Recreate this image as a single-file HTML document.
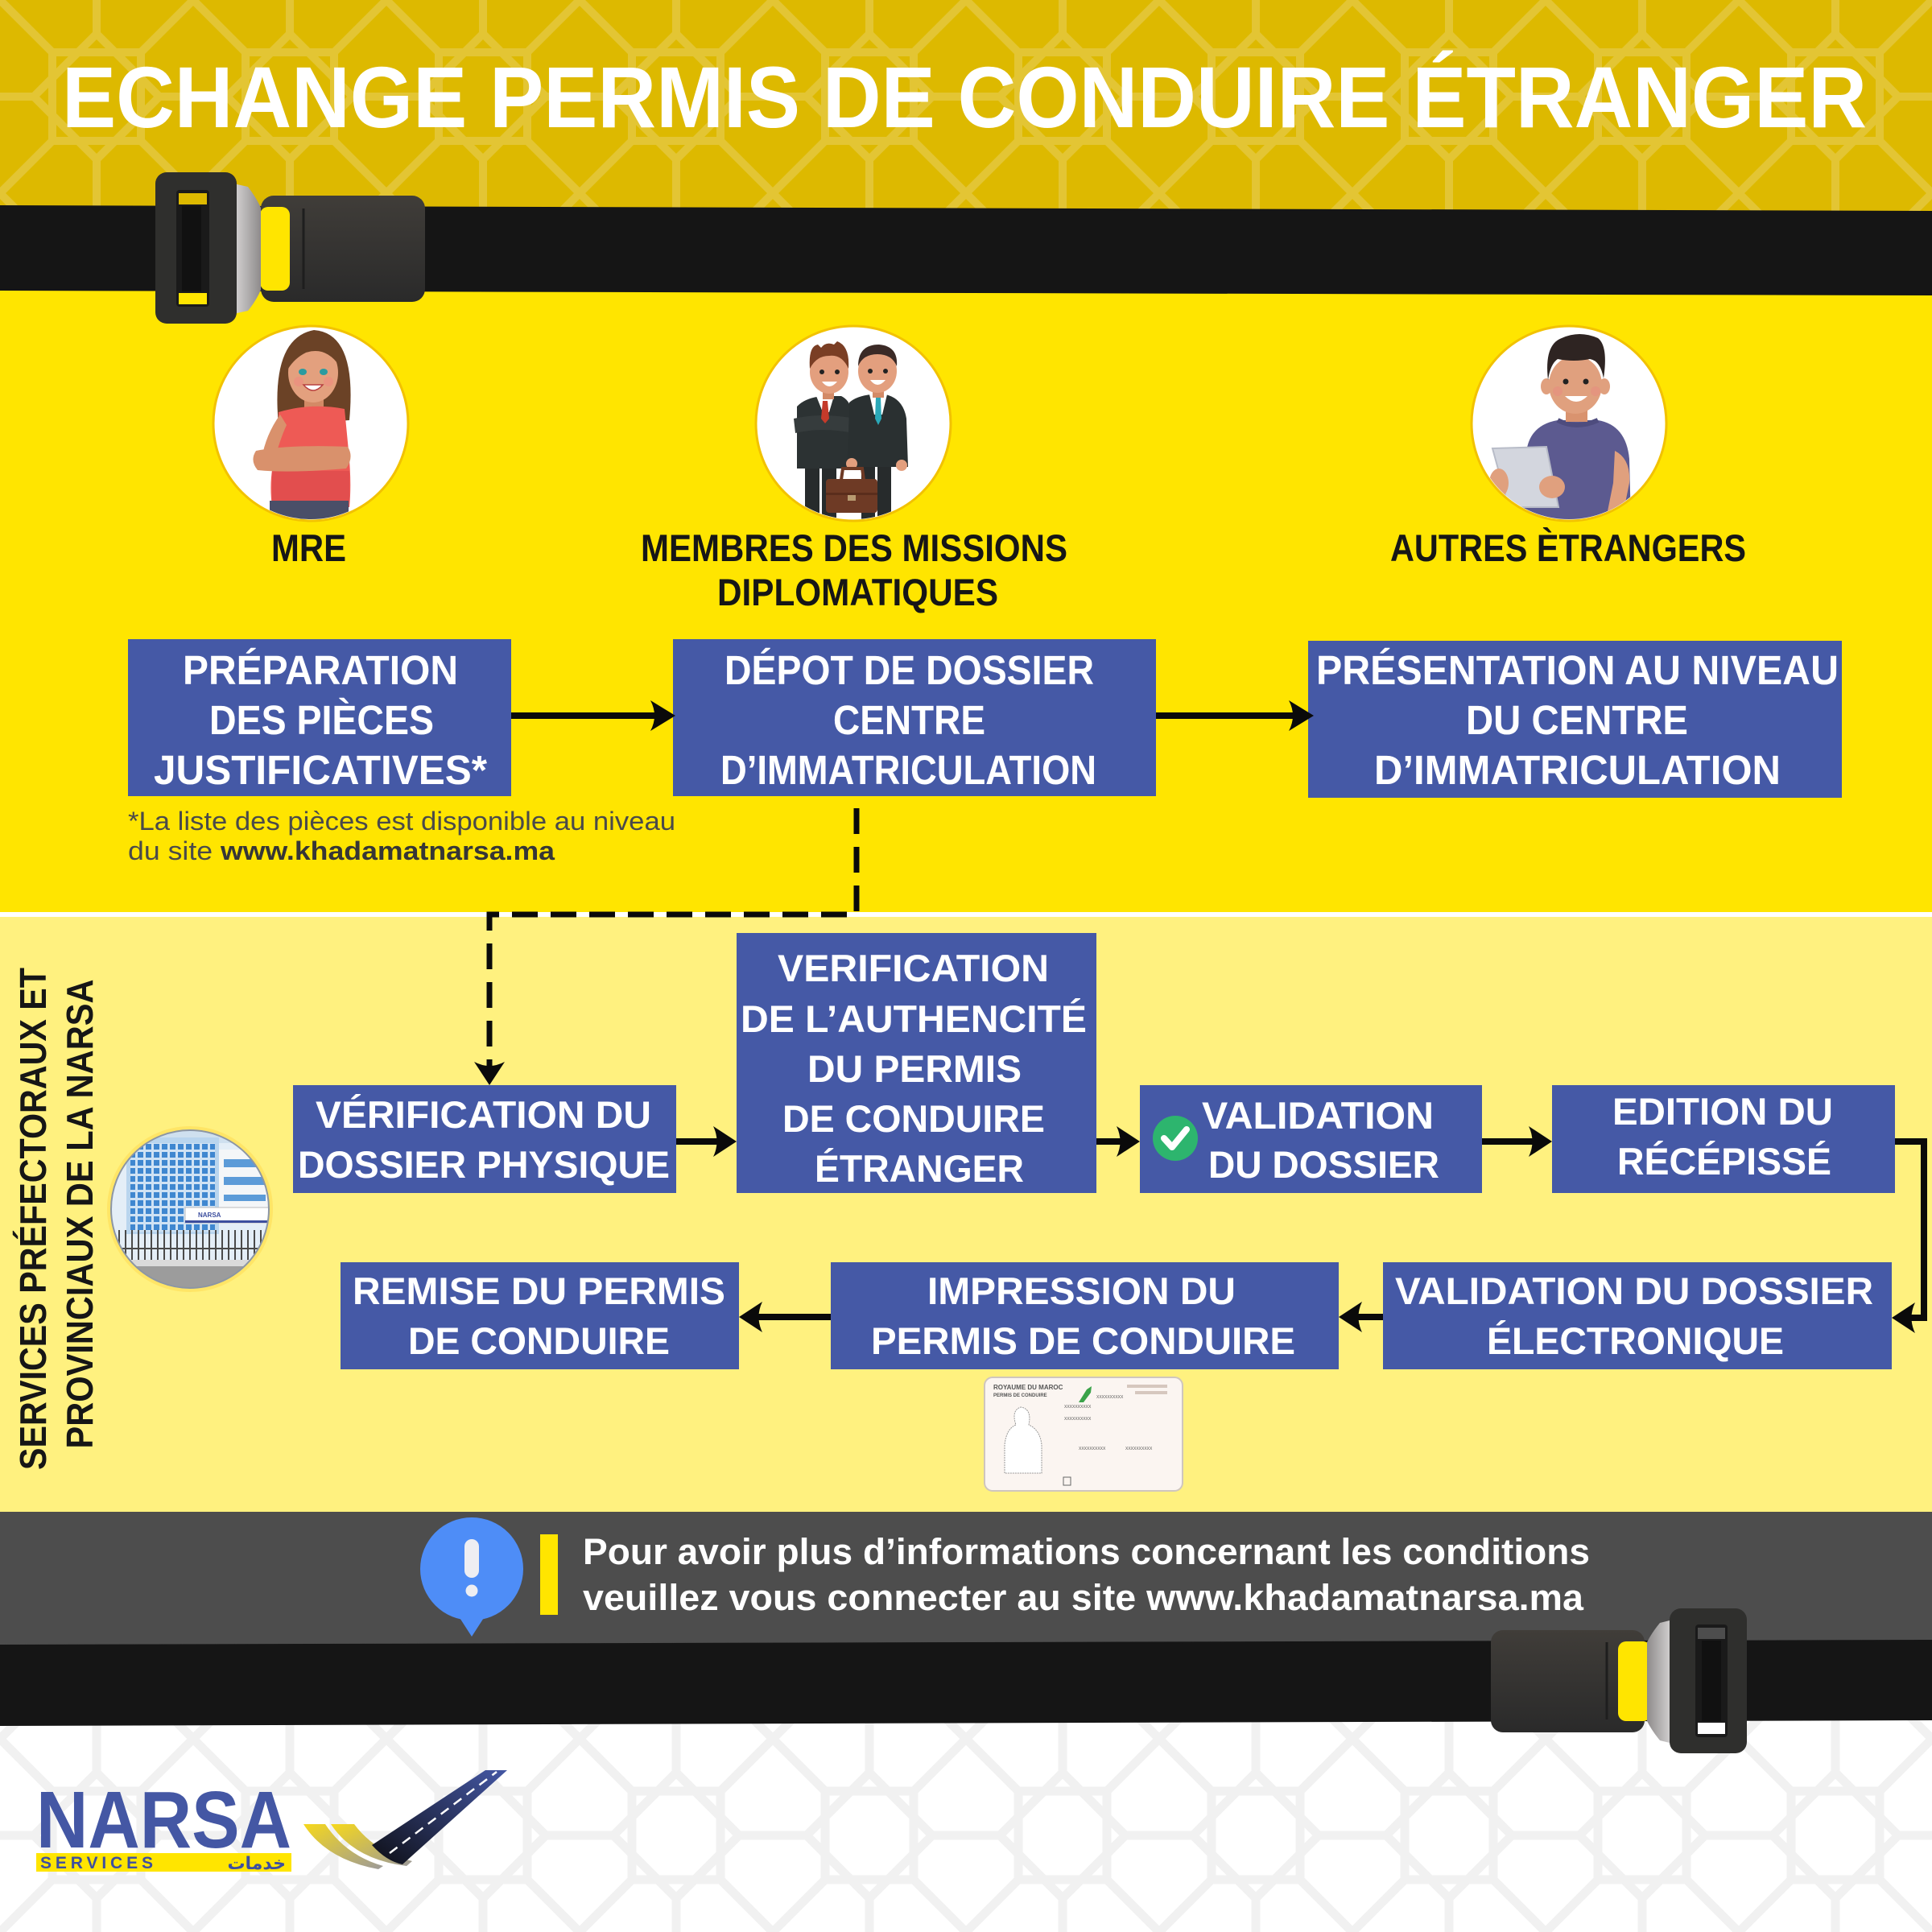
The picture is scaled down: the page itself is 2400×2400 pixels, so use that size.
<!DOCTYPE html>
<html><head><meta charset="utf-8"><style>html,body{margin:0;padding:0;background:#fff}svg{display:block}</style></head>
<body>
<svg width="2400" height="2400" viewBox="0 0 2400 2400" xmlns="http://www.w3.org/2000/svg">
<defs>
<pattern id="pg" width="240" height="240" patternUnits="userSpaceOnUse">
<g fill="none" stroke="#E3C534" stroke-width="10">
<rect x="65" y="65" width="110" height="110"/>
<polygon points="120,42 198,120 120,198 42,120"/>
<path d="M65 65 L0 0 M175 65 L240 0 M175 175 L240 240 M65 175 L0 240 M120 42 V0 M120 198 V240 M42 120 H0 M198 120 H240"/>
</g></pattern>
<pattern id="pw" width="240" height="240" patternUnits="userSpaceOnUse">
<g fill="none" stroke="#F1F1F1" stroke-width="11">
<rect x="65" y="65" width="110" height="110"/>
<polygon points="120,42 198,120 120,198 42,120"/>
<path d="M65 65 L0 0 M175 65 L240 0 M175 175 L240 240 M65 175 L0 240 M120 42 V0 M120 198 V240 M42 120 H0 M198 120 H240"/>
</g></pattern>
<pattern id="win" width="10" height="10" patternUnits="userSpaceOnUse"><rect width="10" height="10" fill="#CFE2F4"/><rect x="1" y="1" width="7" height="7" fill="#3F87D0"/></pattern>
<pattern id="fence" width="8" height="40" patternUnits="userSpaceOnUse"><rect x="3" y="0" width="2" height="40" fill="#4A4A4A"/><rect x="0" y="6" width="8" height="2" fill="#4A4A4A"/><rect x="0" y="30" width="8" height="2" fill="#4A4A4A"/></pattern>
<linearGradient id="silver" x1="0" y1="0" x2="1" y2="0"><stop offset="0" stop-color="#D8D6D6"/><stop offset="1" stop-color="#8E8B8B"/></linearGradient>
<linearGradient id="silver2" x1="1" y1="0" x2="0" y2="0"><stop offset="0" stop-color="#D8D6D6"/><stop offset="1" stop-color="#8E8B8B"/></linearGradient>
<linearGradient id="latch" x1="0" y1="0" x2="0" y2="1"><stop offset="0" stop-color="#403D39"/><stop offset="1" stop-color="#2A2A2A"/></linearGradient>
<linearGradient id="yg" x1="0" y1="0" x2="1" y2="1"><stop offset="0" stop-color="#F6D81C"/><stop offset="1" stop-color="#9C9A9A"/></linearGradient>
<linearGradient id="road" x1="0" y1="1" x2="1" y2="0"><stop offset="0" stop-color="#0E0F16"/><stop offset="1" stop-color="#4457A4"/></linearGradient>
<clipPath id="c1"><circle cx="386" cy="526" r="119"/></clipPath>
<clipPath id="c2"><circle cx="1060" cy="526" r="119"/></clipPath>
<clipPath id="c3"><circle cx="1949" cy="526" r="119"/></clipPath>
<clipPath id="cb"><circle cx="236" cy="1502" r="98"/></clipPath>
</defs>

<!-- backgrounds -->
<rect x="0" y="0" width="2400" height="300" fill="#DDB900"/>
<rect x="0" y="0" width="2400" height="300" fill="url(#pg)"/>
<rect x="0" y="300" width="2400" height="836" fill="#FFE500"/>
<rect x="0" y="1133" width="2400" height="7" fill="#FFFFFF"/>
<rect x="0" y="1139" width="2400" height="740" fill="#FFF17F"/>
<rect x="0" y="2090" width="2400" height="310" fill="#FFFFFF"/>
<rect x="0" y="2090" width="2400" height="310" fill="url(#pw)"/>
<rect x="0" y="1878" width="2400" height="212" fill="#4D4D4D"/>
<polygon points="0,255 2400,262 2400,367 0,361" fill="#151515"/>
<polygon points="0,2043 2400,2037 2400,2137 0,2144" fill="#151515"/>

<!-- title -->
<text x="77" y="158" font-family="'Liberation Sans', sans-serif" font-weight="bold" font-size="108" fill="#FFFFFF" textLength="2242" lengthAdjust="spacingAndGlyphs">ECHANGE PERMIS DE CONDUIRE ÉTRANGER</text>

<!-- top-left buckle -->
<rect x="324" y="243" width="204" height="132" rx="16" fill="url(#latch)"/>
<line x1="377" y1="259" x2="377" y2="359" stroke="#1E1E1E" stroke-width="3"/>
<rect x="323" y="257" width="37" height="104" rx="10" fill="#FFE500"/>
<path d="M290 228 L308 232 Q318 245 324 258 L324 360 Q318 374 308 386 L290 390 Z" fill="url(#silver)"/>
<rect x="193" y="214" width="101" height="188" rx="14" fill="#2F2F2D"/>
<rect x="219" y="236" width="41" height="145" rx="4" fill="#1A1A1A"/>
<rect x="222" y="240" width="35" height="14" fill="#DDB900"/>
<rect x="222" y="364" width="35" height="14" fill="#FFE500"/>
<rect x="226" y="256" width="24" height="106" fill="#111"/>

<!-- person circles -->
<circle cx="386" cy="526" r="121" fill="#FFFFFF" stroke="#F2C200" stroke-width="3"/>
<circle cx="1060" cy="526" r="121" fill="#FFFFFF" stroke="#F2C200" stroke-width="3"/>
<circle cx="1949" cy="526" r="121" fill="#FFFFFF" stroke="#F2C200" stroke-width="3"/>

<!-- woman -->
<g clip-path="url(#c1)">
<path d="M346 528 Q336 420 390 410 Q444 414 434 522 Z" fill="#6B4226"/>
<rect x="378" y="495" width="24" height="22" fill="#D38A66"/>
<path d="M346 512 Q386 500 428 508 L433 560 Q437 600 434 630 L338 630 Q333 590 344 560 Z" fill="#EE5A55"/>
<path d="M338 585 L434 585 L434 630 L338 630 Z" fill="#E24E4E"/>
<path d="M348 515 Q330 540 325 570 L340 575 Q348 545 356 528 Z" fill="#D9916C"/>
<path d="M318 560 Q360 552 432 555 Q440 568 430 582 Q360 588 320 584 Q310 572 318 560 Z" fill="#D9916C"/>
<rect x="335" y="622" width="98" height="30" fill="#4A4F68"/>
<ellipse cx="389" cy="463" rx="31" ry="37" fill="#E3A07E"/>
<path d="M358 458 Q360 418 392 418 Q422 420 422 455 Q405 430 380 438 Q366 445 358 458 Z" fill="#6B4226"/>
<ellipse cx="376" cy="462" rx="5" ry="4" fill="#2A9BA0"/>
<ellipse cx="402" cy="462" rx="5" ry="4" fill="#2A9BA0"/>
<circle cx="371" cy="474" r="6" fill="#EE8A80" opacity="0.6"/>
<circle cx="408" cy="474" r="6" fill="#EE8A80" opacity="0.6"/>
<path d="M377 478 Q389 492 401 478 Z" fill="#fff" stroke="#B84040" stroke-width="1.5"/>
</g>

<!-- two men -->
<g clip-path="url(#c2)">
<rect x="1000" y="575" width="18" height="80" fill="#272B2C"/>
<rect x="1021" y="575" width="18" height="80" fill="#272B2C"/>
<rect x="1070" y="575" width="17" height="80" fill="#272B2C"/>
<rect x="1090" y="575" width="17" height="80" fill="#272B2C"/>
<path d="M990 505 Q1000 494 1022 492 L1045 492 Q1058 498 1060 520 L1058 582 L990 582 Z" fill="#2C3233"/>
<path d="M986 520 Q1020 512 1062 520 L1060 538 Q1020 530 988 538 Z" fill="#363C3D"/>
<path d="M1014 492 L1036 492 L1030 512 L1022 512 Z" fill="#fff"/>
<path d="M1022 498 L1028 498 L1030 520 L1025 526 L1020 520 Z" fill="#C43A2A"/>
<rect x="1022" y="484" width="14" height="12" fill="#D38A66"/>
<ellipse cx="1030" cy="462" rx="24" ry="27" fill="#E39F7E"/>
<path d="M1006 458 Q1004 430 1016 428 L1020 432 Q1026 424 1036 428 L1040 424 Q1056 430 1054 458 Q1046 440 1030 442 Q1014 442 1006 458 Z" fill="#7A3E24"/>
<circle cx="1021" cy="462" r="3" fill="#222"/><circle cx="1040" cy="462" r="3" fill="#222"/>
<path d="M1021 474 Q1030 486 1040 474 Z" fill="#fff"/>
<path d="M1055 500 Q1064 492 1082 490 L1100 490 Q1122 495 1126 520 L1128 580 L1053 580 Z" fill="#2A3031"/>
<path d="M1080 490 L1102 490 L1096 515 L1086 515 Z" fill="#fff"/>
<path d="M1088 494 L1094 494 L1095 520 L1091 528 L1087 520 Z" fill="#2AA8B8"/>
<rect x="1084" y="482" width="14" height="12" fill="#D38A66"/>
<ellipse cx="1090" cy="461" rx="24" ry="27" fill="#E39F7E"/>
<path d="M1066 455 Q1066 428 1092 428 Q1116 430 1114 455 Q1108 440 1090 440 Q1072 440 1066 455 Z" fill="#3B2A26"/>
<circle cx="1081" cy="461" r="3" fill="#222"/><circle cx="1100" cy="461" r="3" fill="#222"/>
<path d="M1081 472 Q1090 484 1100 472 Z" fill="#fff"/>
<circle cx="1058" cy="576" r="7" fill="#E39F7E"/>
<circle cx="1120" cy="578" r="7" fill="#E39F7E"/>
<path d="M1045 596 L1047 582 L1071 582 L1073 596" fill="none" stroke="#6E3A25" stroke-width="4"/>
<rect x="1026" y="595" width="64" height="42" rx="4" fill="#6E3A25"/>
<rect x="1026" y="612" width="64" height="3" fill="#5A2D1C"/>
<rect x="1053" y="615" width="10" height="7" fill="#B89A70"/>
</g>

<!-- man with tablet -->
<g clip-path="url(#c3)">
<path d="M1896 562 Q1900 528 1935 522 L1985 522 Q2020 528 2024 570 L2026 650 L1890 650 Z" fill="#5C5A90"/>
<path d="M1935 522 Q1958 534 1985 522" fill="none" stroke="#4E4C7E" stroke-width="6"/>
<rect x="1945" y="498" width="27" height="26" fill="#D9936F"/>
<ellipse cx="1921" cy="480" rx="7" ry="10" fill="#E0A07E"/>
<ellipse cx="1993" cy="480" rx="7" ry="10" fill="#E0A07E"/>
<ellipse cx="1957" cy="478" rx="33" ry="36" fill="#E0A07E"/>
<path d="M1923 472 Q1918 428 1940 420 Q1962 410 1985 420 Q1998 430 1992 470 Q1988 448 1975 446 Q1955 450 1935 446 Q1926 452 1923 472 Z" fill="#2E2422"/>
<circle cx="1945" cy="474" r="3.5" fill="#222"/><circle cx="1970" cy="474" r="3.5" fill="#222"/>
<circle cx="1935" cy="486" r="6" fill="#E88A80" opacity="0.5"/><circle cx="1982" cy="486" r="6" fill="#E88A80" opacity="0.5"/>
<path d="M1944 492 Q1958 506 1972 492 Z" fill="#fff"/>
<path d="M2006 560 Q2026 570 2024 600 L2016 640 L1996 640 L2004 600 Z" fill="#E0A07E"/>
<polygon points="1854,557 1921,555 1936,630 1874,630" fill="#D3D6DE" stroke="#B8BCC8" stroke-width="2"/>
<ellipse cx="1862" cy="600" rx="12" ry="18" fill="#E0A07E"/>
<ellipse cx="1928" cy="605" rx="16" ry="14" fill="#E0A07E"/>
</g>

<!-- person labels -->
<g font-family="'Liberation Sans', sans-serif" font-weight="bold" font-size="47" fill="#161616">
<text x="337" y="697" textLength="93" lengthAdjust="spacingAndGlyphs">MRE</text>
<text x="796" y="697" textLength="530" lengthAdjust="spacingAndGlyphs">MEMBRES DES MISSIONS</text>
<text x="891" y="752" textLength="349" lengthAdjust="spacingAndGlyphs">DIPLOMATIQUES</text>
<text x="1727" y="697" textLength="442" lengthAdjust="spacingAndGlyphs">AUTRES ÈTRANGERS</text>
</g>

<!-- boxes -->
<g fill="#4559A6">
<rect x="159" y="794" width="476" height="195"/>
<rect x="836" y="794" width="600" height="195"/>
<rect x="1625" y="796" width="663" height="195"/>
<rect x="364" y="1348" width="476" height="134"/>
<rect x="915" y="1159" width="447" height="323"/>
<rect x="1416" y="1348" width="425" height="134"/>
<rect x="1928" y="1348" width="426" height="134"/>
<rect x="423" y="1568" width="495" height="133"/>
<rect x="1032" y="1568" width="631" height="133"/>
<rect x="1718" y="1568" width="632" height="133"/>
</g>

<g font-family="'Liberation Sans', sans-serif" font-weight="bold" fill="#FFFFFF">
<g font-size="51">
<text x="227" y="850" textLength="342" lengthAdjust="spacingAndGlyphs">PRÉPARATION</text>
<text x="260" y="912" textLength="279" lengthAdjust="spacingAndGlyphs">DES PIÈCES</text>
<text x="191" y="974" textLength="414" lengthAdjust="spacingAndGlyphs">JUSTIFICATIVES*</text>
<text x="900" y="850" textLength="459" lengthAdjust="spacingAndGlyphs">DÉPOT DE DOSSIER</text>
<text x="1035" y="912" textLength="189" lengthAdjust="spacingAndGlyphs">CENTRE</text>
<text x="895" y="974" textLength="467" lengthAdjust="spacingAndGlyphs">D’IMMATRICULATION</text>
<text x="1635" y="850" textLength="649" lengthAdjust="spacingAndGlyphs">PRÉSENTATION AU NIVEAU</text>
<text x="1821" y="912" textLength="276" lengthAdjust="spacingAndGlyphs">DU CENTRE</text>
<text x="1707" y="974" textLength="505" lengthAdjust="spacingAndGlyphs">D’IMMATRICULATION</text>
</g>
<g font-size="47">
<text x="392" y="1401" textLength="417" lengthAdjust="spacingAndGlyphs">VÉRIFICATION DU</text>
<text x="370" y="1463" textLength="462" lengthAdjust="spacingAndGlyphs">DOSSIER PHYSIQUE</text>
<text x="966" y="1219" textLength="337" lengthAdjust="spacingAndGlyphs">VERIFICATION</text>
<text x="920" y="1282" textLength="430" lengthAdjust="spacingAndGlyphs">DE L’AUTHENCITÉ</text>
<text x="1003" y="1344" textLength="266" lengthAdjust="spacingAndGlyphs">DU PERMIS</text>
<text x="972" y="1406" textLength="326" lengthAdjust="spacingAndGlyphs">DE CONDUIRE</text>
<text x="1012" y="1468" textLength="260" lengthAdjust="spacingAndGlyphs">ÉTRANGER</text>
<text x="1493" y="1402" textLength="288" lengthAdjust="spacingAndGlyphs">VALIDATION</text>
<text x="1501" y="1463" textLength="287" lengthAdjust="spacingAndGlyphs">DU DOSSIER</text>
<text x="2003" y="1397" textLength="274" lengthAdjust="spacingAndGlyphs">EDITION DU</text>
<text x="2009" y="1459" textLength="266" lengthAdjust="spacingAndGlyphs">RÉCÉPISSÉ</text>
<text x="438" y="1620" textLength="463" lengthAdjust="spacingAndGlyphs">REMISE DU PERMIS</text>
<text x="507" y="1682" textLength="325" lengthAdjust="spacingAndGlyphs">DE CONDUIRE</text>
<text x="1152" y="1620" textLength="383" lengthAdjust="spacingAndGlyphs">IMPRESSION DU</text>
<text x="1082" y="1682" textLength="527" lengthAdjust="spacingAndGlyphs">PERMIS DE CONDUIRE</text>
<text x="1733" y="1620" textLength="594" lengthAdjust="spacingAndGlyphs">VALIDATION DU DOSSIER</text>
<text x="1847" y="1682" textLength="369" lengthAdjust="spacingAndGlyphs">ÉLECTRONIQUE</text>
</g>
</g>

<!-- green check -->
<circle cx="1460" cy="1414" r="28" fill="#2DB56E"/>
<path d="M1480 1394 A28 28 0 0 1 1460 1442 A28 28 0 0 0 1480 1394 Z" fill="#1F9E5C"/>
<path d="M1446 1414 L1456 1425 L1474 1403" fill="none" stroke="#FFFFFF" stroke-width="8" stroke-linecap="round" stroke-linejoin="round"/>

<!-- note -->
<text x="159" y="1031" font-family="'Liberation Sans', sans-serif" font-size="32" fill="#4A4A4A" textLength="680" lengthAdjust="spacingAndGlyphs">*La liste des pièces est disponible au niveau</text>
<text x="159" y="1068" font-family="'Liberation Sans', sans-serif" font-size="32" fill="#4A4A4A" textLength="530" lengthAdjust="spacingAndGlyphs">du site <tspan font-weight="bold" fill="#363636">www.khadamatnarsa.ma</tspan></text>

<!-- connectors -->
<g stroke="#0A0A0A" stroke-width="8" fill="none">
<path d="M635 889 H815"/>
<path d="M1436 889 H1608"/>
<path d="M840 1418 H892"/>
<path d="M1362 1418 H1394"/>
<path d="M1841 1418 H1906"/>
<path d="M2354 1418 H2390 V1637 H2372"/>
<path d="M1718 1636 H1686"/>
<path d="M1032 1636 H941"/>
<path d="M1064 1004 V1136 H608 V1326" stroke-width="7" stroke-dasharray="32 16"/>
</g>
<g fill="#0A0A0A">
<path d="M839 889 L808 870 Q818 889 808 908 Z"/>
<path d="M1632 889 L1601 870 Q1611 889 1601 908 Z"/>
<path d="M915 1418 L886 1399 Q895 1418 886 1437 Z"/>
<path d="M1416 1418 L1387 1399 Q1396 1418 1387 1437 Z"/>
<path d="M1928 1418 L1899 1399 Q1908 1418 1899 1437 Z"/>
<path d="M2350 1637 L2379 1618 Q2370 1637 2379 1656 Z"/>
<path d="M1663 1636 L1692 1617 Q1683 1636 1692 1655 Z"/>
<path d="M918 1636 L947 1617 Q938 1636 947 1655 Z"/>
<path d="M608 1348 L589 1319 Q608 1329 627 1319 Z"/>
</g>

<!-- rotated side labels -->
<g font-family="'Liberation Sans', sans-serif" font-weight="bold" font-size="46" fill="#161616" text-anchor="middle">
<text transform="translate(57,1514) rotate(-90)" textLength="624" lengthAdjust="spacingAndGlyphs">SERVICES PRÉFECTORAUX ET</text>
<text transform="translate(115,1508) rotate(-90)" textLength="583" lengthAdjust="spacingAndGlyphs">PROVINCIAUX DE LA NARSA</text>
</g>

<!-- building circle -->
<circle cx="236" cy="1502" r="103" fill="#FFE566"/>
<g clip-path="url(#cb)">
<rect x="130" y="1394" width="212" height="216" fill="#E4EEF7"/>
<path d="M150 1413 Q230 1395 340 1412 L340 1420 L150 1420 Z" fill="#CFE0EF"/>
<rect x="157" y="1413" width="115" height="120" fill="#B9D5EE"/>
<rect x="162" y="1420" width="105" height="110" fill="url(#win)"/>
<rect x="272" y="1428" width="64" height="92" fill="#F4F6F8"/>
<rect x="278" y="1440" width="52" height="10" fill="#5C9BD8"/>
<rect x="278" y="1462" width="52" height="10" fill="#5C9BD8"/>
<rect x="278" y="1484" width="52" height="8" fill="#5C9BD8"/>
<rect x="230" y="1500" width="106" height="19" fill="#FFFFFF" stroke="#BBBBBB" stroke-width="1"/>
<text x="246" y="1512" font-family="'Liberation Sans', sans-serif" font-weight="bold" font-size="8" fill="#3C4E9E">NARSA</text>
<rect x="230" y="1516" width="106" height="3" fill="#3C4E9E"/>
<rect x="130" y="1528" width="212" height="38" fill="url(#fence)"/>
<rect x="130" y="1565" width="212" height="8" fill="#DADADA"/>
<rect x="130" y="1573" width="212" height="40" fill="#9C9C9C"/>
</g>
<circle cx="236" cy="1502" r="98" fill="none" stroke="#8C96A4" stroke-width="2"/>

<!-- license card -->
<rect x="1223" y="1711" width="246" height="141" rx="10" fill="#FBF5F1" stroke="#CFC6BE" stroke-width="2"/>
<g font-family="'Liberation Sans', sans-serif" fill="#555">
<text x="1234" y="1726" font-size="8" font-weight="bold">ROYAUME DU MAROC</text>
<text x="1234" y="1735" font-size="6" font-weight="bold">PERMIS DE CONDUIRE</text>
<text x="1264" y="1788" font-size="7">Photo</text>
<text x="1322" y="1749" font-size="5">XXXXXXXXXX</text>
<text x="1322" y="1764" font-size="5">XXXXXXXXXX</text>
<text x="1340" y="1801" font-size="5">XXXXXXXXXX</text>
<text x="1398" y="1801" font-size="5">XXXXXXXXXX</text>
<text x="1362" y="1737" font-size="5">XXXXXXXXXX</text>
</g>
<path d="M1340 1742 L1350 1726 L1356 1722 L1355 1730 L1346 1742 Z" fill="#3BA34A"/>
<path d="M1248 1830 L1248 1795 Q1250 1775 1262 1770 Q1256 1752 1268 1748 Q1282 1750 1278 1770 Q1292 1776 1294 1795 L1294 1830 Z" fill="#FFFFFF" stroke="#999" stroke-width="1" stroke-dasharray="2 1"/>
<rect x="1321" y="1835" width="9" height="10" fill="none" stroke="#666" stroke-width="1"/>
<g fill="#D6C7BE"><rect x="1400" y="1720" width="50" height="4"/><rect x="1410" y="1728" width="40" height="4"/></g>

<!-- footer info -->
<circle cx="586" cy="1949" r="64" fill="#4E8DF7"/>
<path d="M620 1895 A64 64 0 0 1 586 2013 A64 64 0 0 0 620 1895 Z" fill="#4680F0"/>
<path d="M566 2002 L606 2002 L586 2033 Z" fill="#4E8DF7"/>
<rect x="577" y="1912" width="18" height="48" rx="9" fill="#EEEEF2"/>
<circle cx="586" cy="1976" r="7.5" fill="#EEEEF2"/>
<rect x="671" y="1906" width="22" height="100" fill="#FFE500"/>
<g font-family="'Liberation Sans', sans-serif" font-weight="bold" font-size="45" fill="#FFFFFF">
<text x="724" y="1943" textLength="1251" lengthAdjust="spacingAndGlyphs">Pour avoir plus d’informations concernant les conditions</text>
<text x="724" y="2000" textLength="1243" lengthAdjust="spacingAndGlyphs">veuillez vous connecter au site www.khadamatnarsa.ma</text>
</g>

<!-- bottom-right buckle -->
<rect x="1852" y="2025" width="191" height="127" rx="15" fill="url(#latch)"/>
<line x1="1996" y1="2040" x2="1996" y2="2136" stroke="#1E1E1E" stroke-width="3"/>
<rect x="2010" y="2039" width="41" height="99" rx="10" fill="#FFE500"/>
<path d="M2078 2012 L2062 2016 Q2052 2028 2046 2040 L2046 2138 Q2052 2150 2062 2162 L2078 2166 Z" fill="url(#silver2)"/>
<rect x="2074" y="1998" width="96" height="180" rx="14" fill="#2F2F2D"/>
<rect x="2106" y="2018" width="40" height="140" rx="4" fill="#1A1A1A"/>
<rect x="2109" y="2022" width="34" height="14" fill="#4D4D4D"/>
<rect x="2109" y="2140" width="34" height="14" fill="#FFFFFF"/>
<rect x="2114" y="2038" width="24" height="100" fill="#111"/>

<!-- NARSA logo -->
<text x="45" y="2295" font-family="'Liberation Sans', sans-serif" font-weight="bold" font-size="100" fill="#4457A4" textLength="317" lengthAdjust="spacingAndGlyphs">NARSA</text>
<rect x="45" y="2302" width="317" height="23" fill="#FFE500"/>
<text x="50" y="2321" font-family="'Liberation Sans', sans-serif" font-weight="bold" font-size="21" fill="#3D4FA0" textLength="140" lengthAdjust="spacing">SERVICES</text>
<text x="355" y="2322" font-family="'DejaVu Sans', sans-serif" font-weight="bold" font-size="22" fill="#3D4FA0" text-anchor="end">خدمات</text>
<path d="M377 2266 L404 2266 Q430 2305 476 2318 L470 2322 Q405 2310 377 2266 Z" fill="url(#yg)"/>
<path d="M411 2266 L440 2266 Q465 2300 512 2312 L505 2318 Q440 2310 411 2266 Z" fill="url(#yg)"/>
<path d="M462 2292 L603 2199 L630 2199 L500 2316 Q480 2312 462 2292 Z" fill="url(#road)"/>
<path d="M484 2302 L617 2201" stroke="#FFFFFF" stroke-width="2.5" stroke-dasharray="12 8" fill="none"/>
</svg>
</body></html>
